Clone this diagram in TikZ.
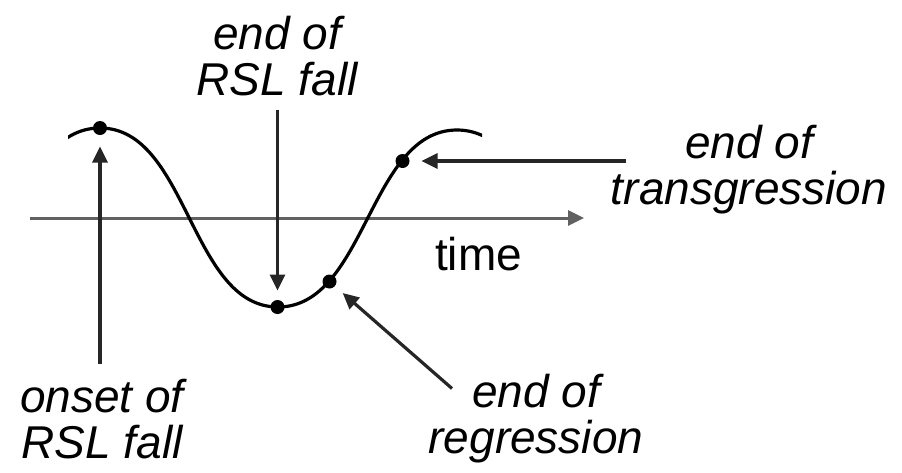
\documentclass[tikz,border=0pt]{standalone}
\usepackage{fontspec}
\setmainfont{Liberation Sans}
\usetikzlibrary{arrows.meta}
\begin{document}
\begin{tikzpicture}[x=1pt,y=-1pt,
  curveline/.style={line width=3.2pt,black},
  axisline/.style={line width=3pt,color=black!62,-{Triangle[length=16pt,width=15pt]}},
  arr/.style={line width=3.2pt,color=black!85,-{Triangle[length=16pt,width=15pt]}},
  dot/.style={circle,fill=black,inner sep=0pt,outer sep=0pt,minimum size=14pt},
  lbl/.style={font=\fontsize{46}{46}\selectfont\itshape,align=center,inner sep=0pt},
  tlbl/.style={font=\fontsize{46}{46}\selectfont,inner sep=0pt}]
\useasboundingbox (0,0) rectangle (902,472);
\fill[white] (0,0) rectangle (902,472);
% axis
\coordinate (axL) at (30,218);
\coordinate (axR) at (584,218);
\draw[axisline] (axL) -- (axR);
% curve
\begin{scope}
\clip (68,0) rectangle (482,472);
\draw[curveline] (-78,307) .. controls (10,307) and (12,128) .. (100,128)
  .. controls (188,128) and (190,307) .. (278,307)
  .. controls (366,307) and (369,130) .. (457,130)
  .. controls (545,130) and (547,307) .. (635,307);
\end{scope}
% dots
\node[dot] (p1) at (100,128) {};
\node[dot] (p2) at (277.5,307) {};
\node[dot] (p3) at (329.5,281.5) {};
\node[dot] (p4) at (402.5,161) {};
% arrow tails
\coordinate (t1) at (100,364);
\coordinate (t2) at (277.5,110);
\coordinate (t3) at (452,388.5);
\coordinate (t4) at (626,161);
\draw[arr,shorten >=11.5pt] (t1) -- (p1);
\draw[arr,shorten >=9.5pt] (t2) -- (p2);
\draw[arr,shorten >=10.5pt] (t3) -- (p3);
\draw[arr,shorten >=12pt] (t4) -- (p4);
% labels
\node[lbl,anchor=base] (l1) at (102,458) {onset of\\RSL fall};
\node[lbl,anchor=base] (l2) at (277,95) {end of\\RSL fall};
\node[lbl,anchor=base] (l3) at (536,453) {end of\\regression};
\node[lbl,anchor=base] (l4) at (749,204) {end of\\transgression};
\node[tlbl,anchor=base west] (tm) at (435,270) {time};
\end{tikzpicture}
\end{document}
